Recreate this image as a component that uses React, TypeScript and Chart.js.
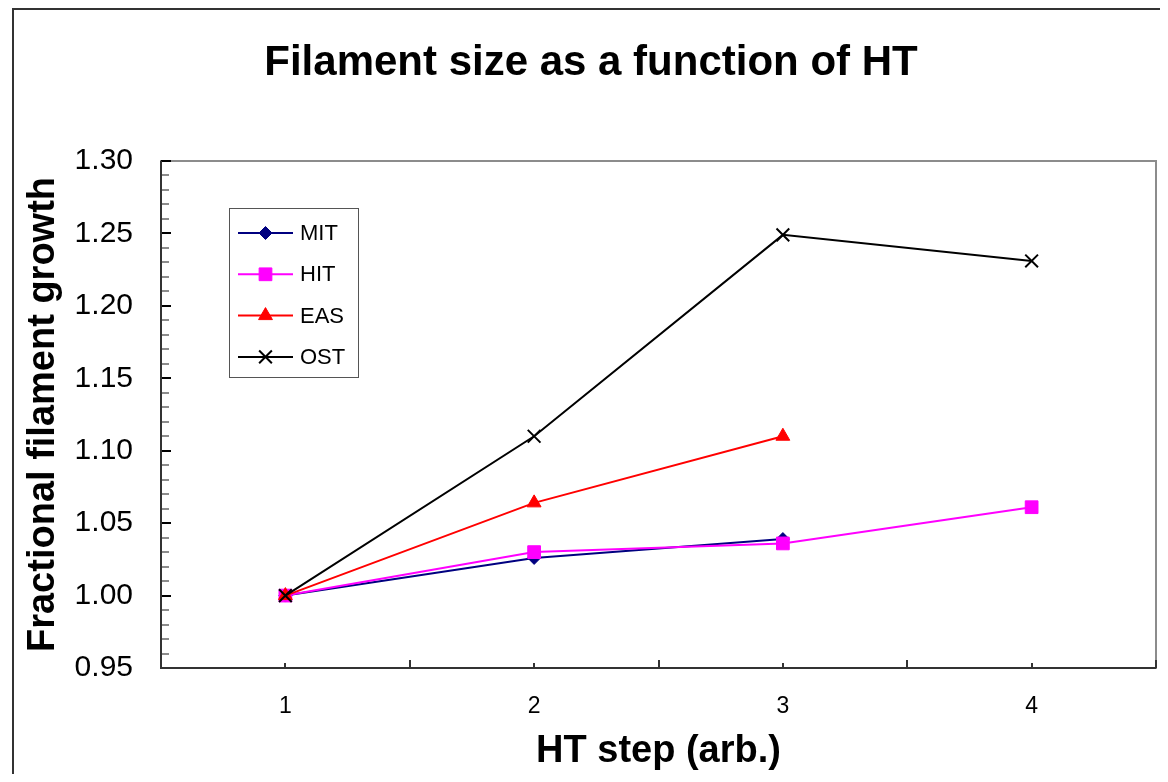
import React, { useEffect, useRef } from "react";
import { Chart, registerables } from "chart.js";
import { drawPoint } from "chart.js/helpers";

Chart.register(...registerables);

// Heat-treatment steps and the measured growth for each conductor
const htSteps = ["1", "2", "3", "4"];
const seriesNames = ["MIT", "HIT", "EAS", "OST"];
const mitGrowth = [1.0, 1.026, 1.039, null];
const hitGrowth = [1.0, 1.03, 1.036, 1.061];
const easGrowth = [1.0, 1.064, 1.11, null];
const ostGrowth = [1.0, 1.11, 1.249, 1.231];

// Value axis range
const yMin = 0.95;
const yMax = 1.3;
const yMajorStep = 0.05;
const yMinorStep = 0.01;

const FONT = "'Liberation Sans', Arial, Helvetica, sans-serif";

// Chart border, plot frame and inward-pointing tick marks
const framePlugin = {
  id: "excelFrame",
  beforeDatasetsDraw(chart: any) {
    const { ctx, chartArea: a, scales } = chart;
    const ys = scales.y;
    const xs = scales.x;
    ctx.save();
    ctx.lineWidth = 2;

    // outer chart border
    ctx.strokeStyle = "#333333";
    ctx.beginPath();
    ctx.moveTo(5, chart.height);
    ctx.lineTo(5, 1);
    ctx.lineTo(chart.width, 1);
    ctx.stroke();

    // plot area frame
    ctx.strokeStyle = "#8c8c8c";
    ctx.strokeRect(a.left, a.top, a.right - a.left, a.bottom - a.top);

    // value axis ticks: major every 0.05, minor every 0.01
    const count = Math.round((yMax - yMin) / yMinorStep);
    const perMajor = Math.round(yMajorStep / yMinorStep);
    for (let i = 0; i <= count; i++) {
      const py = Math.round(ys.getPixelForValue(yMin + i * yMinorStep));
      const major = i % perMajor === 0;
      ctx.strokeStyle = major ? "#000000" : "#8c8c8c";
      ctx.beginPath();
      ctx.moveTo(a.left, py);
      ctx.lineTo(a.left + (major ? 10 : 8), py);
      ctx.stroke();
    }

    // category axis ticks: long at boundaries, short at category centres
    ctx.strokeStyle = "#333333";
    const n = htSteps.length;
    const cw = (a.right - a.left) / n;
    for (let i = 0; i <= n; i++) {
      const px = Math.round(a.left + i * cw);
      ctx.beginPath();
      ctx.moveTo(px, a.bottom);
      ctx.lineTo(px, a.bottom - 8);
      ctx.stroke();
    }
    for (let i = 0; i < n; i++) {
      const px = Math.round(xs.getPixelForValue(i));
      ctx.beginPath();
      ctx.moveTo(px, a.bottom);
      ctx.lineTo(px, a.bottom - 5);
      ctx.stroke();
    }

    // axis lines
    ctx.strokeStyle = "#333333";
    ctx.beginPath();
    ctx.moveTo(a.left, a.top);
    ctx.lineTo(a.left, a.bottom);
    ctx.lineTo(a.right, a.bottom);
    ctx.stroke();
    ctx.restore();
  },
};

// Boxed legend inside the plot area
const insetLegendPlugin = {
  id: "insetLegend",
  afterDraw(chart: any) {
    const { ctx, chartArea: a } = chart;
    const left = a.left + 68;
    const top = a.top + 47;
    const w = 129;
    const h = 169;
    ctx.save();
    ctx.fillStyle = "#ffffff";
    ctx.fillRect(left, top, w, h);
    ctx.strokeStyle = "#555555";
    ctx.lineWidth = 1;
    ctx.strokeRect(left + 0.5, top + 0.5, w, h);

    chart.data.datasets.forEach((ds: any, i: number) => {
      const cy = top + 25 + i * 41.3;
      ctx.strokeStyle = ds.borderColor;
      ctx.lineWidth = ds.borderWidth;
      ctx.beginPath();
      ctx.moveTo(left + 9, cy);
      ctx.lineTo(left + 64, cy);
      ctx.stroke();

      ctx.fillStyle = ds.pointBackgroundColor;
      ctx.strokeStyle = ds.pointBorderColor;
      ctx.lineWidth = ds.pointBorderWidth;
      drawPoint(
        ctx,
        {
          pointStyle: ds.pointStyle,
          radius: ds.pointRadius,
          borderWidth: ds.pointBorderWidth,
          rotation: 0,
        },
        left + 36.5,
        cy
      );

      ctx.fillStyle = "#000000";
      ctx.font = `22px ${FONT}`;
      ctx.textAlign = "left";
      ctx.textBaseline = "middle";
      ctx.fillText(ds.label, left + 71, cy + 1);
    });
    ctx.restore();
  },
};

function makeSeries(
  label: string,
  data: (number | null)[],
  color: string,
  pointStyle: string,
  radius: number,
  pointBorderWidth: number,
  order: number
) {
  return {
    label,
    data,
    borderColor: color,
    backgroundColor: color,
    pointBackgroundColor: color,
    pointBorderColor: color,
    borderWidth: 2,
    pointStyle,
    pointRadius: radius,
    pointHoverRadius: radius,
    pointBorderWidth,
    tension: 0,
    spanGaps: false,
    order,
  };
}

export default function App() {
  const canvasRef = useRef<HTMLCanvasElement | null>(null);

  useEffect(() => {
    if (!canvasRef.current) return;
    const chart = new Chart(canvasRef.current, {
      type: "line",
      data: {
        labels: htSteps,
        datasets: [
          makeSeries(seriesNames[0], mitGrowth, "#000080", "rectRot", 6.5, 1, 4),
          makeSeries(seriesNames[1], hitGrowth, "#ff00ff", "rect", 9, 1, 3),
          makeSeries(seriesNames[2], easGrowth, "#ff0000", "triangle", 8, 1, 2),
          makeSeries(seriesNames[3], ostGrowth, "#000000", "crossRot", 9, 2, 1),
        ] as any,
      },
      options: {
        animation: false,
        responsive: true,
        maintainAspectRatio: false,
        layout: {
          autoPadding: false,
          padding: { left: 18, right: 4, top: 0, bottom: 0 },
        },
        plugins: {
          legend: { display: false },
          tooltip: { enabled: false },
          title: {
            display: true,
            text: "Filament size as a function of HT",
            color: "#000000",
            font: { family: FONT, size: 42, weight: "bold" },
            padding: { top: 30, bottom: 72.6 },
          },
        },
        scales: {
          x: {
            type: "category",
            offset: true,
            grid: { display: false, drawTicks: false },
            border: { display: false },
            ticks: {
              color: "#000000",
              font: { family: FONT, size: 23 },
              padding: 25,
              maxRotation: 0,
            },
            title: {
              display: true,
              text: "HT step (arb.)",
              color: "#000000",
              font: { family: FONT, size: 38, weight: "bold" },
              padding: { top: 0, bottom: 0 },
            },
            afterFit(scale: any) {
              scale.height = 106;
              scale.paddingLeft = 0;
              scale.paddingRight = 0;
            },
          },
          y: {
            type: "linear",
            min: yMin,
            max: yMax,
            grid: { display: false, drawTicks: false },
            border: { display: false },
            ticks: {
              stepSize: yMajorStep,
              color: "#000000",
              font: { family: FONT, size: 30 },
              padding: 28,
              callback: (v: any) => Number(v).toFixed(2),
            },
            title: {
              display: true,
              text: "Fractional filament growth",
              color: "#000000",
              font: { family: FONT, size: 38, weight: "bold" },
              padding: { top: -5, bottom: 0 },
            },
            afterFit(scale: any) {
              scale.width = 135;
            },
          },
        },
      } as any,
      plugins: [framePlugin, insetLegendPlugin],
    });
    return () => chart.destroy();
  }, []);

  return (
    <div style={{ position: "relative", width: 1152, height: 766 }}>
      <canvas ref={canvasRef} />
    </div>
  );
}
